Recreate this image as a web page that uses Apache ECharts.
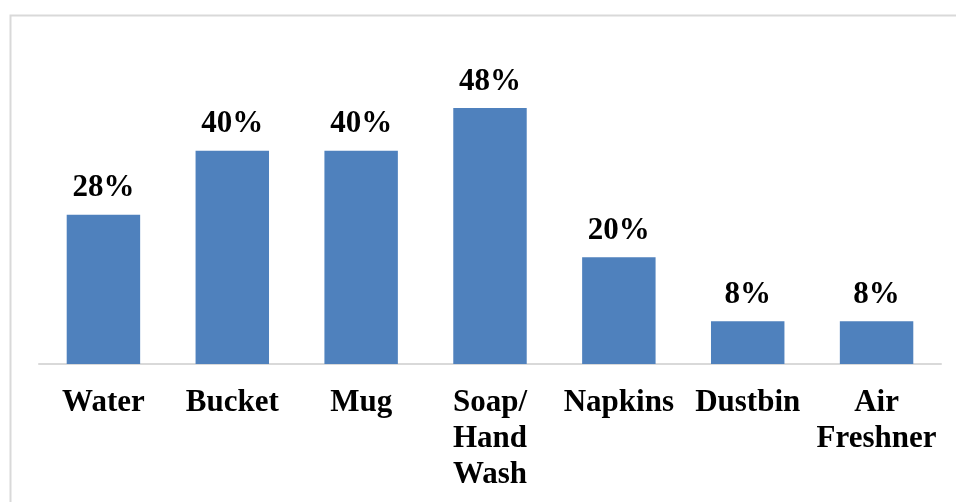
<!DOCTYPE html>
<html>
<head>
<meta charset="utf-8">
<script src="https://cdn.jsdelivr.net/npm/echarts@6/dist/echarts.min.js"></script>
<style>
  html, body { margin: 0; padding: 0; background: #fff; }
  #chart { width: 956px; height: 502px; }
</style>
</head>
<body>
<div id="chart"></div>
<script>
// Share of respondents naming each toilet item (percent)
const categories = ['Water', 'Bucket', 'Mug', 'Soap/\nHand\nWash', 'Napkins', 'Dustbin', 'Air\nFreshner'];
const values = [28, 40, 40, 48, 20, 8, 8];

const chart = echarts.init(document.getElementById('chart'));
const font = '"Liberation Serif", "Times New Roman", serif';

chart.setOption({
  animation: false,
  graphic: [{
    type: 'rect',
    shape: { x: 10.5, y: 15.5, width: 1000, height: 600 },
    style: { fill: 'none', stroke: '#d9d9d9', lineWidth: 2 },
    silent: true
  }],
  grid: { left: 39, right: 15, top: 44, bottom: 138 },
  xAxis: {
    type: 'category',
    data: categories,
    axisLine: { show: true, lineStyle: { color: '#d9d9d9', width: 2 } },
    axisTick: { show: false },
    axisLabel: {
      interval: 0,
      margin: 21,
      color: '#000',
      fontFamily: font,
      fontWeight: 'bold',
      fontSize: 31,
      lineHeight: 36
    }
  },
  yAxis: {
    type: 'value',
    min: 0,
    max: 60,
    show: false,
    splitLine: { show: false }
  },
  series: [{
    type: 'bar',
    data: values,
    barWidth: '57%',
    itemStyle: { color: '#4f81bd' },
    label: {
      show: true,
      position: 'top',
      distance: 11,
      formatter: '{c}%',
      color: '#000',
      fontFamily: font,
      fontWeight: 'bold',
      fontSize: 31
    }
  }]
});
</script>
</body>
</html>
